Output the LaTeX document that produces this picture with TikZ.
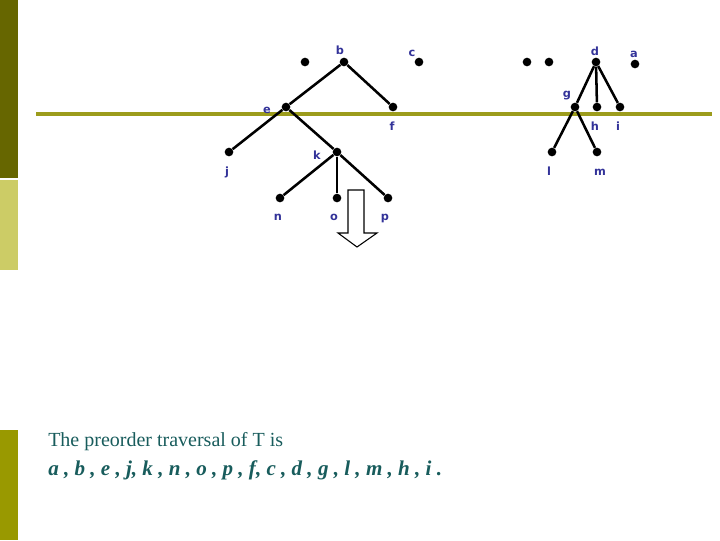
\documentclass[tikz,border=0pt]{standalone}
\usepackage{fontspec}
\setmainfont{Liberation Serif}
\newfontfamily\labelfont{DejaVu Sans}
\usetikzlibrary{positioning}
\definecolor{olivedark}{RGB}{102, 102, 0}
\definecolor{olivelight}{RGB}{204, 204, 102}
\definecolor{olivemid}{RGB}{153, 153, 0}
\definecolor{olivebar}{RGB}{156, 156, 28}
\definecolor{labelblue}{RGB}{51, 51, 153}
\definecolor{tealtext}{RGB}{24, 92, 92}

\tikzset{
  vert/.style={circle, fill=black, inner sep=0pt, minimum size=6.5pt},
  lab/.style={text=labelblue, font=\labelfont\bfseries\fontsize{8.5}{9}\selectfont, inner sep=0pt},
  edge/.style={line width=1.9pt}
}

\begin{document}
\begin{tikzpicture}[x=0.75pt, y=-0.75pt]
\useasboundingbox (0,0) rectangle (720,540);
\fill[olivedark] (0,0) rectangle (18,178);
\fill[olivelight] (0,180) rectangle (18,270);
\fill[olivemid] (0,430) rectangle (18,540);
\draw[olivebar, line width=2.8pt] (36,114) -- (712,114);
% loose dots
\node[vert] (dot1) at (305,62) {};
\node[vert] (dot2) at (527,62) {};
\node[vert] (dot3) at (549,62) {};
% left tree
\node[vert] (b) at (344,62) {};
\node[vert] (c) at (419,62) {};
\node[vert] (e) at (286,107) {};
\node[vert] (f) at (393,107) {};
\node[vert] (j) at (229,152) {};
\node[vert] (k) at (337,152) {};
\node[vert] (n) at (280,198) {};
\node[vert] (o) at (337,198) {};
\node[vert] (p) at (388,198) {};
% right tree
\node[vert] (d) at (596,62) {};
\node[vert] (a) at (635,64) {};
\node[vert] (g) at (575,107) {};
\node[vert] (h) at (597,107) {};
\node[vert] (i) at (620,107) {};
\node[vert] (l) at (552,152) {};
\node[vert] (m) at (597,152) {};
% labels
\node[lab] at (340,50) {b};
\node[lab] at (412,53) {c};
\node[lab] at (267,110) {e};
\node[lab] at (392,126) {f};
\node[lab] at (227,172) {j};
\node[lab] at (317,155) {k};
\node[lab] at (278,217) {n};
\node[lab] at (334,217) {o};
\node[lab] at (385,218) {p};
\node[lab] at (595,51) {d};
\node[lab] at (634,54) {a};
\node[lab] at (567,96) {g};
\node[lab] at (595,126) {h};
\node[lab] at (618,126) {i};
\node[lab] at (549,171) {l};
\node[lab] at (600,172) {m};
% edges
\draw[edge] (b) -- (e);
\draw[edge] (b) -- (f);
\draw[edge] (e) -- (j);
\draw[edge] (e) -- (k);
\draw[edge] (k) -- (n);
\draw[edge] (k) -- (o);
\draw[edge] (k) -- (p);
\draw[edge] (d) -- (g);
\draw[edge] (d) -- (h);
\draw[edge] (d) -- (i);
\draw[edge] (g) -- (l);
\draw[edge] (g) -- (m);
% block arrow
\draw[fill=white, line width=0.8pt] (348,190) -- (364,190) -- (364,233) -- (377,233) -- (357,247)
  -- (338,233) -- (348,233) -- cycle;
% text
\node[anchor=base west, text=tealtext, font=\fontsize{15}{18}\selectfont, inner sep=0pt]
  (txt) at (48,446) {The preorder traversal of T is};
\node[anchor=base west, text=tealtext, font=\fontsize{15.8}{18}\selectfont\bfseries\itshape, inner sep=0pt]
  (seq) at (48,475) {a , b , e , j, k , n , o , p , f, c , d , g , l , m , h , i .};
\end{tikzpicture}
\end{document}
